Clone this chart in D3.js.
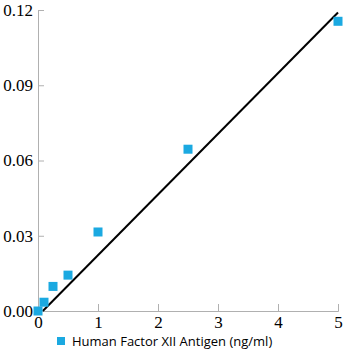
<!DOCTYPE html>
<html><head><meta charset="utf-8">
<script src="https://cdn.jsdelivr.net/npm/d3@7"></script>
<style>body{margin:0;background:#fff}</style>
</head><body>
<svg id="c" width="360" height="360"></svg>
<script>
const xValues = [0, 0.1, 0.25, 0.5, 1, 2.5, 5];
const yValues = [0.0, 0.0035, 0.0098, 0.0143, 0.0315, 0.0645, 0.1155];
const xTicks = [0, 1, 2, 3, 4, 5];
const yTicks = [0, 0.03, 0.06, 0.09, 0.12];
const fitLine = [[0.08, 0.0], [5, 0.119]];
const seriesName = "Human Factor XII Antigen (ng/ml)";

const svg = d3.select("#c");
const x = d3.scaleLinear().domain([0, 5]).range([38, 338]);
const y = d3.scaleLinear().domain([0, 0.12]).range([311, 10]);
const axisColor = "#b0b0b0";

const gx = svg.append("g").attr("transform", "translate(0,311)")
  .call(d3.axisBottom(x).tickValues(xTicks).tickSize(-7).tickPadding(5).tickFormat(d3.format("d")));
const gy = svg.append("g").attr("transform", "translate(38,0)")
  .call(d3.axisLeft(y).tickValues(yTicks).tickSize(-6).tickPadding(5).tickFormat(d3.format(".2f")));
[gx, gy].forEach(g => {
  g.attr("font-family", null).attr("font-size", null);
  g.select(".domain").attr("stroke", axisColor).attr("stroke-width", 1);
  g.selectAll(".tick line").attr("stroke", axisColor);
  g.selectAll(".tick text").attr("fill", "#000")
    .attr("font-family", "Liberation Serif, DejaVu Serif, serif").attr("font-size", "17px");
});

svg.append("line")
  .attr("x1", x(fitLine[0][0])).attr("y1", y(fitLine[0][1]))
  .attr("x2", x(fitLine[1][0])).attr("y2", y(fitLine[1][1]))
  .attr("stroke", "#000").attr("stroke-width", 2);

const s = 9;
svg.selectAll("rect.pt").data(xValues.map((v, i) => [v, yValues[i]])).enter().append("rect")
  .attr("class", "pt")
  .attr("x", d => x(d[0]) - s / 2).attr("y", d => y(d[1]) - s / 2)
  .attr("width", s).attr("height", s).attr("fill", "#1ba9e1");

svg.append("rect").attr("x", 57).attr("y", 337).attr("width", 8).attr("height", 8).attr("fill", "#1ba9e1");
svg.append("text").attr("x", 72).attr("y", 346).text(seriesName)
  .attr("font-family", "Open Sans, sans-serif").attr("font-size", "13px").attr("fill", "#000");
</script>
</body></html>
